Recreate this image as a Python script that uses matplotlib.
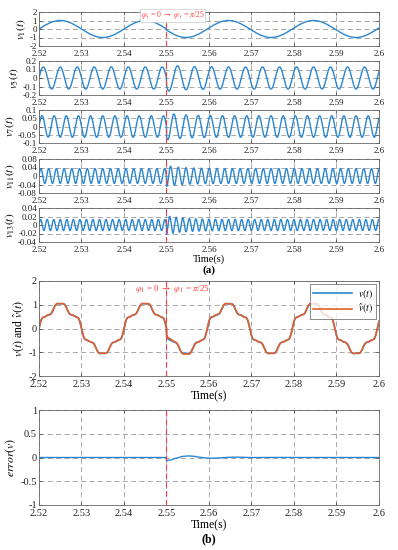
import numpy as np
import matplotlib
matplotlib.use('Agg')
import matplotlib.pyplot as plt
from matplotlib.ticker import FuncFormatter

plt.rcParams['font.family'] = ['Liberation Serif', 'DejaVu Serif']
plt.rcParams['mathtext.fontset'] = 'stix'
plt.rcParams['axes.unicode_minus'] = False

# ---------------------------------------------------------
# Data: harmonic components
# ---------------------------------------------------------
f0 = 50.0                                   # fundamental (Hz)
t_start, t_end, t_jump = 2.52, 2.60, 2.55
orders = [1, 5, 7, 11, 13]
amplitudes = [1.0, 0.13, 0.065, 0.035, 0.013]
bump_after_jump = [0.0, 0.20, 0.25, 0.40, 0.70]     # relative overshoot of estimate
phase_jump = np.pi / 25
ylims = [2, 0.2, 0.1, 0.08, 0.04]
ytick_steps = [1, 0.1, 0.05, 0.04, 0.02]
ylabels = [r'$v_1(t)$', r'$v_5(t)$', r'$v_7(t)$', r'$v_{11}(t)$', r'$v_{13}(t)$']
xticks = [2.52, 2.53, 2.54, 2.55, 2.56, 2.57, 2.58, 2.59, 2.6]

# estimation error transient after the jump
err_amp, err_freq, err_tau = -0.07, 90.0, 0.007

BLUE = '#2a86d0'
ORANGE = '#e2612c'
RED = '#ff3b3b'
GRID = '#9a9a9a'

t = np.linspace(t_start, t_end, 16001)
dt = np.clip(t - t_jump, 0, None)
after = t >= t_jump

def harmonic(i, estimate=False):
    k = orders[i]
    ph = np.where(after, k * phase_jump, 0.0)
    amp = amplitudes[i] * np.ones_like(t)
    if estimate:
        amp = amp * (1 + np.where(after, bump_after_jump[i] * np.exp(-dt / 0.004), 0.0))
    return amp * np.sin(2 * np.pi * k * f0 * (t - t_start) + ph)

v = sum(harmonic(i) for i in range(len(orders)))
err = np.where(after, err_amp * np.exp(-dt / err_tau) * np.cos(2 * np.pi * err_freq * dt), 0.0)
err = err + np.where(after, 0.004 * np.exp(-dt / 0.01) * np.sin(2 * np.pi * 650 * dt), 0.0)
v_hat = v - err

# ---------------------------------------------------------
# Figure
# ---------------------------------------------------------
W, H = 398, 550
fig = plt.figure(figsize=(W / 100, H / 100), dpi=100)

def px_axes(top, bottom, left=39, right=379):
    return fig.add_axes([left / W, 1 - bottom / H, (right - left) / W, (bottom - top) / H])

fmt = FuncFormatter(lambda x, pos: ('%g' % round(x, 6)))

def style(ax, fs):
    ax.set_xlim(t_start, t_end)
    ax.set_xticks(xticks)
    ax.xaxis.set_major_formatter(fmt)
    ax.yaxis.set_major_formatter(fmt)
    ax.grid(True, color=GRID, linestyle=(0, (6, 4)), linewidth=0.6)
    ax.tick_params(direction='in', length=2.5, width=0.5, labelsize=fs, top=True, right=True,
                   pad=1.5, colors='#333333', labelcolor='#222222')
    ax.tick_params(axis='x', pad=3)
    for s in ax.spines.values():
        s.set_color('#666666')
        s.set_linewidth(0.6)
    ax.axvline(t_jump, color=RED, linestyle=(0, (5, 3)), linewidth=0.8, zorder=3)

def jump_text(ax, y, fs, box):
    kw = dict(ha='center', va='center', color=RED, fontsize=fs, zorder=5)
    if box:
        kw['bbox'] = dict(boxstyle='square,pad=0.05', fc='white', ec='#bbbbbb', lw=0.4)
    ax.text(t_jump + 0.0015, y, r'$\varphi_1$ = 0 $\rightarrow$ $\varphi_1$ = $\pi$/25', **kw)

# panel (a)
rows = [(12, 46), (61, 95), (110, 143), (159, 193), (208, 242)]
for i, (top, bottom) in enumerate(rows):
    ax = px_axes(top, bottom)
    ax.plot(t, harmonic(i, estimate=True), color=BLUE, linewidth=1.0)
    lim, step = ylims[i], ytick_steps[i]
    ax.set_ylim(-lim, lim)
    ax.set_yticks(np.round(np.arange(-lim, lim + step / 2, step), 6))
    style(ax, 6.5)
    ax.set_ylabel(ylabels[i], fontsize=8, labelpad=1)
    if i == 0:
        jump_text(ax, 1.62, 5.5, True)
    if i == 4:
        ax.set_xlabel('Time(s)', fontsize=7.5, labelpad=0)

fig.text(209 / W, 1 - 270 / H, '(a)', ha='center', va='center', fontsize=8, fontweight='bold')

# panel (b) top
ax = px_axes(281, 376)
ax.plot(t, v, color=BLUE, linewidth=1.2, label=r'$v(t)$')
ax.plot(t, v_hat, color=ORANGE, linewidth=1.2, label=r'$\hat{v}(t)$')
ax.set_ylim(-2, 2)
ax.set_yticks([-2, -1, 0, 1, 2])
style(ax, 7.5)
ax.set_ylabel(r'$v(t)$ and $\hat{v}(t)$', fontsize=8.5, labelpad=2)
ax.set_xlabel('Time(s)', fontsize=8.5, labelpad=1)
jump_text(ax, 1.65, 6.5, False)
leg = ax.legend(loc='upper right', fontsize=7, frameon=True, fancybox=False, handlelength=4,
                borderaxespad=0.3, labelspacing=0.15, borderpad=0.3, handletextpad=0.6)
leg.get_frame().set_edgecolor('#555555')
leg.get_frame().set_linewidth(0.6)

# panel (b) bottom
ax = px_axes(410, 505)
ax.plot(t, err, color=BLUE, linewidth=1.0)
ax.set_ylim(-1, 1)
ax.set_yticks([-1, -0.5, 0, 0.5, 1])
style(ax, 7.5)
ax.set_ylabel(r'$error(v)$', fontsize=8.5, labelpad=2)
ax.set_xlabel('Time(s)', fontsize=8.5, labelpad=1)

fig.text(209 / W, 1 - 539 / H, '(b)', ha='center', va='center', fontsize=8.5, fontweight='bold')

fig.savefig('out.png', dpi=100, facecolor='white')
